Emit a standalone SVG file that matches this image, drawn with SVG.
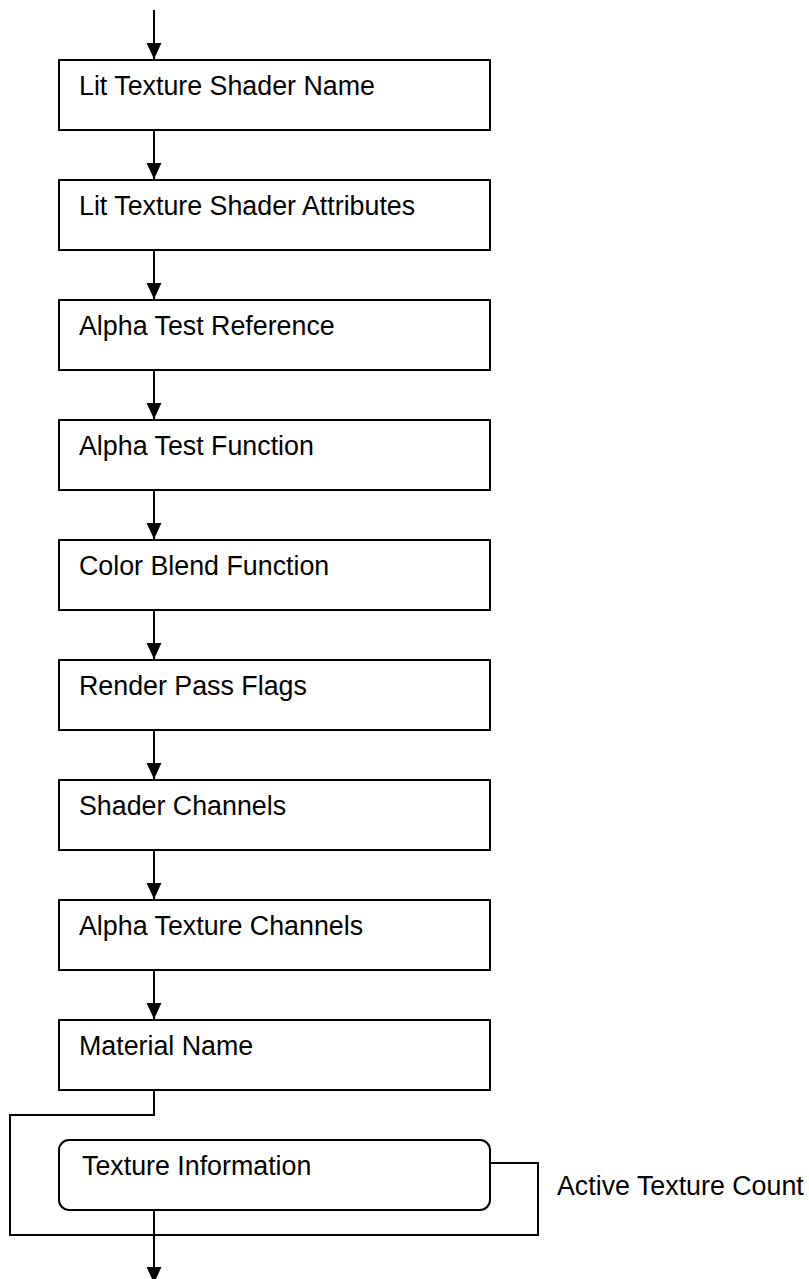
<svg xmlns="http://www.w3.org/2000/svg" width="809" height="1279" viewBox="0 0 809 1279">
<style>
.box{fill:#fff;stroke:#000;stroke-width:2}
.lbl{font-family:"Liberation Sans",Arial,sans-serif;font-size:26.8px;fill:#000}
.con{fill:none;stroke:#000;stroke-width:2}
</style>
<defs>
<marker id="ah" markerUnits="userSpaceOnUse" viewBox="0 0 16 15" refX="16" refY="7.5" markerWidth="16" markerHeight="15" orient="auto">
<path d="M0,0 L16,7.5 L0,15 z" fill="#000"/>
</marker>
</defs>
<rect width="809" height="1279" fill="#fff"/>
<g id="connectors">
<line class="con" x1="154" y1="10" x2="154" y2="59" marker-end="url(#ah)"/>
<line class="con" x1="154" y1="130" x2="154" y2="179" marker-end="url(#ah)"/>
<line class="con" x1="154" y1="250" x2="154" y2="299" marker-end="url(#ah)"/>
<line class="con" x1="154" y1="370" x2="154" y2="419" marker-end="url(#ah)"/>
<line class="con" x1="154" y1="490" x2="154" y2="539" marker-end="url(#ah)"/>
<line class="con" x1="154" y1="610" x2="154" y2="659" marker-end="url(#ah)"/>
<line class="con" x1="154" y1="730" x2="154" y2="779" marker-end="url(#ah)"/>
<line class="con" x1="154" y1="850" x2="154" y2="899" marker-end="url(#ah)"/>
<line class="con" x1="154" y1="970" x2="154" y2="1019" marker-end="url(#ah)"/>
<polyline class="con" points="154,1090 154,1115 10,1115 10,1235 538,1235 538,1163 490,1163"/>
<line class="con" x1="154" y1="1210" x2="154" y2="1283" marker-end="url(#ah)"/>
</g>
<g id="n1"><rect class="box" x="59" y="60" width="431" height="70"/><text class="lbl" x="79" y="95">Lit Texture Shader Name</text></g>
<g id="n2"><rect class="box" x="59" y="180" width="431" height="70"/><text class="lbl" x="79" y="215">Lit Texture Shader Attributes</text></g>
<g id="n3"><rect class="box" x="59" y="300" width="431" height="70"/><text class="lbl" x="79" y="335">Alpha Test Reference</text></g>
<g id="n4"><rect class="box" x="59" y="420" width="431" height="70"/><text class="lbl" x="79" y="455">Alpha Test Function</text></g>
<g id="n5"><rect class="box" x="59" y="540" width="431" height="70"/><text class="lbl" x="79" y="575">Color Blend Function</text></g>
<g id="n6"><rect class="box" x="59" y="660" width="431" height="70"/><text class="lbl" x="79" y="695">Render Pass Flags</text></g>
<g id="n7"><rect class="box" x="59" y="780" width="431" height="70"/><text class="lbl" x="79" y="815">Shader Channels</text></g>
<g id="n8"><rect class="box" x="59" y="900" width="431" height="70"/><text class="lbl" x="79" y="935">Alpha Texture Channels</text></g>
<g id="n9"><rect class="box" x="59" y="1020" width="431" height="70"/><text class="lbl" x="79" y="1055">Material Name</text></g>
<g id="n10"><rect class="box" x="59" y="1140" width="431" height="70" rx="10" ry="10"/><text class="lbl" x="82" y="1175">Texture Information</text></g>
<g id="loop-label"><text class="lbl" x="557" y="1195">Active Texture Count</text></g>
</svg>
